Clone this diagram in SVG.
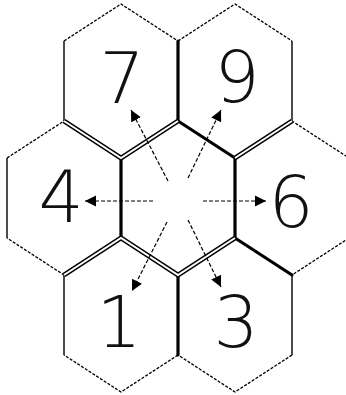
<svg xmlns="http://www.w3.org/2000/svg" width="346" height="395" viewBox="0 0 346 395">
<style>
.slant{fill:none;stroke:#000;stroke-width:1.3;stroke-dasharray:3 1.5}
.vert{fill:none;stroke:#000;stroke-width:1.4}
.thick{fill:none;stroke:#000;stroke-width:3.2;stroke-linecap:round}
.dblo{fill:none;stroke:#000;stroke-width:5}
.dbli{fill:none;stroke:#fff;stroke-width:2}
.arrow{fill:none;stroke:#000;stroke-width:1.2;stroke-dasharray:4 2;marker-end:url(#ah)}
.num{font-family:"DejaVu Sans","Liberation Sans",sans-serif;font-weight:200;font-size:71px;fill:#111;text-anchor:middle}
</style>
<defs>
<marker id="ah" markerUnits="userSpaceOnUse" markerWidth="12" markerHeight="12" viewBox="0 0 12 12" refX="11" refY="6" orient="auto">
<path d="M0,0.5 L11,6 L0,11.5 Z" fill="#000"/>
</marker>
</defs>
<rect width="346" height="395" fill="#fff"/>
<g id="hex7">
<path class="slant" d="M64,41 L121,4 L178,41 M178,121 L121,158 L64,121"/>
<path class="vert" d="M64,41 V121 M178,41 V121"/>
<text class="num" x="122" y="103">7</text>
</g>
<g id="hex9">
<path class="slant" d="M178,41 L235,4 L292,41 M292,121 L235,158 L178,121"/>
<path class="vert" d="M178,41 V121 M292,41 V121"/>
<text class="num" x="237" y="102">9</text>
</g>
<g id="hex4">
<path class="slant" d="M7,158 L64,121 L121,158 M121,238 L64,275 L7,238"/>
<path class="vert" d="M7,158 V238 M121,158 V238"/>
<text class="num" x="61" y="222">4</text>
</g>
<g id="hexC">
<path class="slant" d="M121,158 L178,121 L235,158 M235,238 L178,275 L121,238"/>
<path class="vert" d="M121,158 V238 M235,158 V238"/>
</g>
<g id="hex6">
<path class="slant" d="M235,158 L292,121 L349,158 M349,238 L292,275 L235,238"/>
<path class="vert" d="M235,158 V238"/>
<text class="num" x="291" y="227">6</text>
</g>
<g id="hex1">
<path class="slant" d="M64,275 L121,238 L178,275 M178,355 L121,392 L64,355"/>
<path class="vert" d="M64,275 V355 M178,275 V355"/>
<text class="num" x="119" y="347">1</text>
</g>
<g id="hex3">
<path class="slant" d="M178,275 L235,238 L292,275 M292,355 L235,392 L178,355"/>
<path class="vert" d="M178,275 V355 M292,275 V355"/>
<text class="num" x="236" y="347">3</text>
</g>
<g id="shared-edges">
<path class="thick" d="M178,41 V121 L235,158 V238 L292,275 M121,158 V238 M178,275 V355"/>
<path class="dblo" d="M64,121 L121,158 L178,121 M235,158 L292,121 M64,275 L121,238 L178,275 L235,238"/>
<path class="dbli" d="M64,121 L121,158 L178,121 M235,158 L292,121 M64,275 L121,238 L178,275 L235,238"/>
</g>
<g id="connectors">
<line class="arrow" x1="153" y1="201" x2="85" y2="201"/>
<line class="arrow" x1="203" y1="201" x2="266" y2="201"/>
<line class="arrow" x1="168" y1="181" x2="131" y2="110"/>
<line class="arrow" x1="188" y1="178" x2="221" y2="110"/>
<line class="arrow" x1="167" y1="222" x2="132" y2="291"/>
<line class="arrow" x1="188" y1="220" x2="221" y2="287"/>
</g>
</svg>
